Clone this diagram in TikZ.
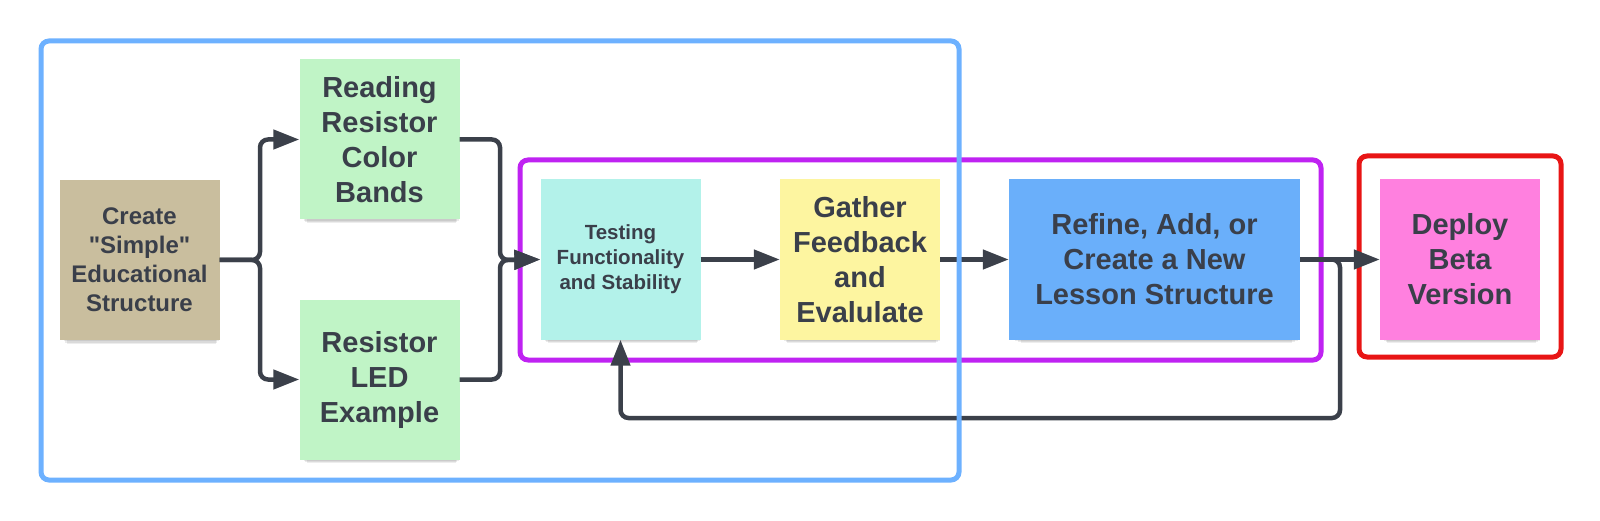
\documentclass[tikz,border=0pt]{standalone}
\usepackage{fontspec}
\setmainfont{Liberation Sans}[Ligatures=TeXOff]
\usetikzlibrary{arrows.meta,shadows}
\definecolor{txt}{HTML}{3A3F4A}
\definecolor{conncol}{HTML}{3B404A}
\definecolor{tan}{HTML}{C9BE9E}
\definecolor{lgreen}{HTML}{C0F4C6}
\definecolor{lcyan}{HTML}{B3F2EA}
\definecolor{lyellow}{HTML}{FDF5A0}
\definecolor{mblue}{HTML}{6AAFFA}
\definecolor{mpink}{HTML}{FF80DF}
\definecolor{fblue}{HTML}{6DB1FF}
\definecolor{fpurple}{HTML}{BF22F2}
\definecolor{fred}{HTML}{E81515}
\begin{document}
\begin{tikzpicture}[x=1pt,y=-1pt,
  papershadow/.style={
    general shadow={fill=black, opacity=0.08, shadow xshift=2pt, shadow yshift=-4pt, shadow scale=0.97},
    general shadow={fill=black, opacity=0.08, shadow xshift=2pt, shadow yshift=-7pt, shadow scale=0.95},
    general shadow={fill=black, opacity=0.07, shadow xshift=2pt, shadow yshift=-10pt, shadow scale=0.93}},
  card/.style={draw=none, minimum width=160pt, minimum height=160pt, inner sep=0pt,
    align=center, text=txt, font=\fontsize{29}{35}\selectfont\bfseries, papershadow},
  conn/.style={draw=conncol, line width=4.5pt, rounded corners=8pt,
    -{Triangle[length=26pt,width=19pt]}},
  frame/.style={line width=5pt, rounded corners=8pt}]
\useasboundingbox (0,0) rectangle (1600,521);

% frames behind connectors
\draw[frame, draw=fpurple] (520,160) rectangle (1321,360);
\draw[frame, draw=fred] (1359,156) rectangle (1561,357);

% nodes
\node[card, fill=tan, font=\fontsize{24}{29}\selectfont\bfseries] (create) at (139.5,260) {Create\\"Simple"\\Educational\\Structure};
\node[card, fill=lgreen] (reading) at (379.5,139.5) {Reading\\Resistor\\Color\\Bands};
\node[card, fill=lgreen] (led) at (379.5,379.5) {Resistor\\LED\\Example};
\node[card, fill=lcyan, font=\fontsize{20.5}{25}\selectfont\bfseries] (testing) at (620.5,259.5) {Testing\\Functionality\\and Stability};
\node[card, fill=lyellow] (gather) at (860,259.5) {Gather\\Feedback\\and\\Evalulate};
\node[card, fill=mblue, minimum width=291pt] (refine) at (1154.5,259.5) {Refine, Add, or\\Create a New\\Lesson Structure};
\node[card, fill=mpink] (deploy) at (1460,259.5) {Deploy\\Beta\\Version};

% junction coordinates
\coordinate (jl) at (260,260);
\coordinate (jr) at (500,260);
\coordinate (fb) at (1340,418);

% connectors
\draw[conn] (create.east) -- (jl) |- (reading.west);
\draw[conn] (create.east) -- (jl) |- (led.west);
\draw[conn] (reading.east) -| (jr) -- (testing.west);
\draw[conn] (led.east) -| (jr) -- (testing.west);
\draw[conn] (testing.east) -- (gather.west);
\draw[conn] (gather.east) -- (refine.west);
\draw[conn] (refine.east) -- (deploy.west);
\draw[conn] (refine.east) -| (fb) -| (testing.south);

% blue frame on top
\draw[frame, draw=fblue] (41,41) rectangle (959,480);
\end{tikzpicture}
\end{document}
